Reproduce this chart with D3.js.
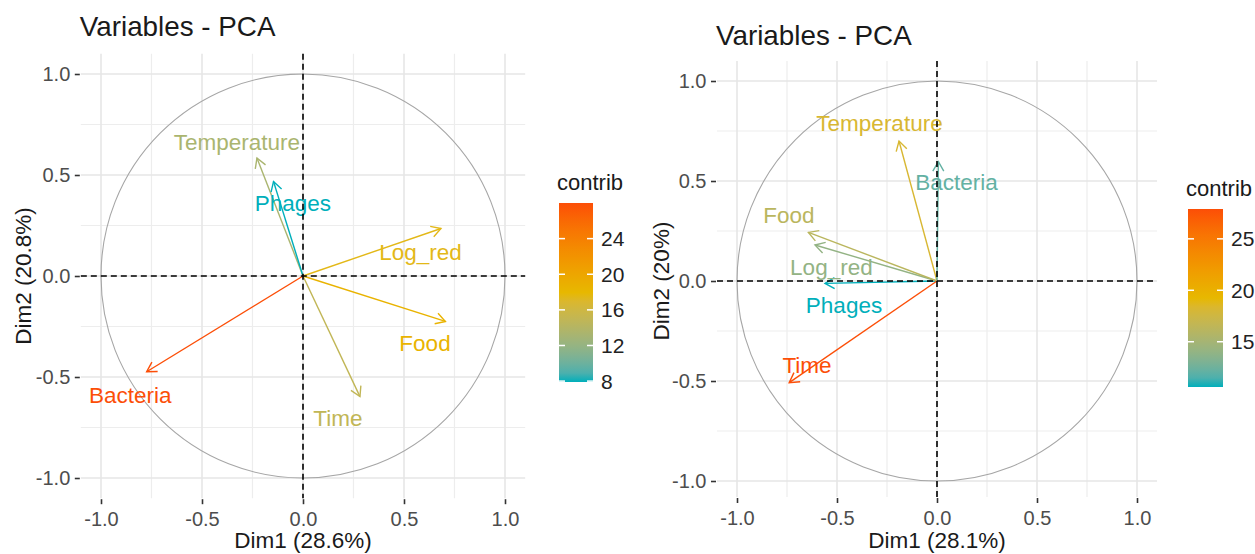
<!DOCTYPE html>
<html>
<head>
<meta charset="utf-8">
<script src="https://cdn.jsdelivr.net/npm/d3@7"></script>
<style>
body { margin: 0; background: #fff; }
svg text { font-family: "Liberation Sans", Arial, sans-serif; }
</style>
</head>
<body>
<div id="chart"></div>
<script>
// variables (same order in both panels)
var varNames = ["Temperature", "Phages", "Log_red", "Food", "Bacteria", "Time"];

// left PCA
var dim1Left = [-0.228, -0.146, 0.683, 0.705, -0.774, 0.282];
var dim2Left = [0.584, 0.468, 0.235, -0.225, -0.474, -0.597];
var contribLeft = [13.3, 7.9, 17.6, 18.5, 28.0, 14.9];
var labelXLeft = [-0.327, -0.05, 0.582, 0.604, -0.855, 0.173];
var labelYLeft = [0.665, 0.36, 0.12, -0.33, -0.589, -0.703];

// right PCA
var dim1Right = [-0.19, -0.56, -0.61, -0.643, 0.007, -0.739];
var dim2Right = [0.70, -0.012, 0.18, 0.243, 0.597, -0.508];
var contribRight = [18.2, 10.6, 14.0, 16.2, 12.1, 27.9];
var labelXRight = [-0.2875, -0.465, -0.528, -0.74, 0.098, -0.65];
var labelYRight = [0.789, -0.12, 0.072, 0.33, 0.497, -0.42];

var axisTicks = [-1, -0.5, 0, 0.5, 1];
var minorTicks = [-0.75, -0.25, 0.25, 0.75];
var legendTicksLeft = [8, 12, 16, 20, 24];
var legendTicksRight = [15, 20, 25];
var gradientCols = ["#00AFBB", "#E7B800", "#FC4E07"];

var svg = d3.select("#chart").append("svg")
    .attr("width", 1255)
    .attr("height", 554);

var fmt = function(d) { return d.toFixed(1); };

function drawPanel(p) {
  var x = d3.scaleLinear().domain(p.xDomain).range([p.left, p.left + p.width]);
  var y = d3.scaleLinear().domain(p.yDomain).range([p.top + p.height, p.top]);
  var g = svg.append("g");

  var ext = d3.extent(p.contrib);
  var color = d3.scaleLinear()
      .domain([ext[0], (ext[0] + ext[1]) / 2, ext[1]])
      .range(gradientCols)
      .interpolate(d3.interpolateLab);

  // grid
  var grid = g.append("g");
  grid.selectAll(".vminor").data(minorTicks).enter().append("line")
      .attr("x1", d => x(d)).attr("x2", d => x(d))
      .attr("y1", p.top).attr("y2", p.top + p.height)
      .attr("stroke", "#EDEDED").attr("stroke-width", 1.2);
  grid.selectAll(".hminor").data(minorTicks).enter().append("line")
      .attr("y1", d => y(d)).attr("y2", d => y(d))
      .attr("x1", p.left).attr("x2", p.left + p.width)
      .attr("stroke", "#EDEDED").attr("stroke-width", 1.2);
  grid.selectAll(".vmajor").data(axisTicks).enter().append("line")
      .attr("x1", d => x(d)).attr("x2", d => x(d))
      .attr("y1", p.top).attr("y2", p.top + p.height)
      .attr("stroke", "#E6E6E6").attr("stroke-width", 1.6);
  grid.selectAll(".hmajor").data(axisTicks).enter().append("line")
      .attr("y1", d => y(d)).attr("y2", d => y(d))
      .attr("x1", p.left).attr("x2", p.left + p.width)
      .attr("stroke", "#E6E6E6").attr("stroke-width", 1.6);

  // correlation circle
  g.append("ellipse")
      .attr("cx", x(0)).attr("cy", y(0))
      .attr("rx", x(1) - x(0)).attr("ry", y(0) - y(1))
      .attr("fill", "none").attr("stroke", "#A6A6A6").attr("stroke-width", 1.1);

  // arrows
  var rows = varNames.map(function(n, i) {
    return {name: n, d1: p.dim1[i], d2: p.dim2[i], c: p.contrib[i], lx: p.labelX[i], ly: p.labelY[i]};
  });

  var arrows = g.selectAll(".arrow").data(rows).enter().append("g");
  arrows.append("line")
      .attr("x1", x(0)).attr("y1", y(0))
      .attr("x2", d => x(d.d1)).attr("y2", d => y(d.d2))
      .attr("stroke", d => color(d.c)).attr("stroke-width", 1.4);
  arrows.append("path")
      .attr("d", function(d) {
        var tx = x(d.d1), ty = y(d.d2);
        var a = Math.atan2(ty - y(0), tx - x(0));
        var len = 11, sp = Math.PI / 6;
        return "M" + (tx - len * Math.cos(a - sp)) + "," + (ty - len * Math.sin(a - sp)) +
               "L" + tx + "," + ty +
               "L" + (tx - len * Math.cos(a + sp)) + "," + (ty - len * Math.sin(a + sp));
      })
      .attr("fill", "none")
      .attr("stroke", d => color(d.c)).attr("stroke-width", 1.4);

  g.selectAll(".vlabel").data(rows).enter().append("text")
      .attr("x", d => x(d.lx)).attr("y", d => y(d.ly))
      .attr("dy", "0.36em")
      .attr("text-anchor", "middle")
      .attr("font-size", 22.5)
      .attr("fill", d => color(d.c))
      .text(d => d.name);

  // dashed zero lines
  g.append("line")
      .attr("x1", p.left).attr("x2", p.left + p.width)
      .attr("y1", y(0)).attr("y2", y(0))
      .attr("stroke", "#000").attr("stroke-width", 1.6).attr("stroke-dasharray", "6,4");
  g.append("line")
      .attr("x1", x(0)).attr("x2", x(0))
      .attr("y1", p.top).attr("y2", p.top + p.height)
      .attr("stroke", "#000").attr("stroke-width", 1.6).attr("stroke-dasharray", "6,4");

  // axes
  var xAxis = g.append("g")
      .attr("transform", "translate(0," + (p.top + p.height + 1) + ")")
      .call(d3.axisBottom(x).tickValues(axisTicks).tickFormat(fmt).tickSize(5).tickPadding(8));
  var yAxis = g.append("g")
      .attr("transform", "translate(" + (p.left - 1) + ",0)")
      .call(d3.axisLeft(y).tickValues(axisTicks).tickFormat(fmt).tickSize(5).tickPadding(4.5));
  [xAxis, yAxis].forEach(function(a) {
    a.select(".domain").remove();
    a.selectAll(".tick line").attr("stroke", "#333").attr("stroke-width", 1.6);
    a.selectAll(".tick text").attr("fill", "#4D4D4D").attr("font-size", 20)
        .style("font-family", "'Liberation Sans', Arial, sans-serif");
  });

  // titles
  g.append("text")
      .attr("x", p.left - 1).attr("y", p.titleY)
      .attr("font-size", 27.8).attr("fill", "#1a1a1a")
      .text("Variables - PCA");
  g.append("text")
      .attr("x", x(0)).attr("y", 548)
      .attr("text-anchor", "middle")
      .attr("font-size", 22.5).attr("fill", "#1a1a1a")
      .text(p.xTitle);
  g.append("text")
      .attr("transform", "translate(" + p.yTitleX + "," + y(0) + ") rotate(-90)")
      .attr("dy", "0.36em")
      .attr("text-anchor", "middle")
      .attr("font-size", 22.5).attr("fill", "#1a1a1a")
      .text(p.yTitle);

  // legend
  var L = p.legend;
  var gradId = "grad" + p.id;
  var grad = svg.append("defs").append("linearGradient")
      .attr("id", gradId)
      .attr("x1", 0).attr("y1", 1).attr("x2", 0).attr("y2", 0);
  d3.range(0, 1.0001, 0.05).forEach(function(t) {
    grad.append("stop")
        .attr("offset", t)
        .attr("stop-color", color(ext[0] + t * (ext[1] - ext[0])));
  });
  var ly = d3.scaleLinear().domain(ext).range([L.y + L.h, L.y]);
  var leg = g.append("g");
  leg.append("text")
      .attr("x", L.x - 2).attr("y", L.y - 13)
      .attr("font-size", 22).attr("fill", "#1a1a1a")
      .text("contrib");
  leg.append("rect")
      .attr("x", L.x).attr("y", L.y).attr("width", L.w).attr("height", L.h)
      .attr("fill", "url(#" + gradId + ")");
  leg.selectAll(".tl").data(L.ticks).enter().append("line")
      .attr("x1", L.x).attr("x2", L.x + 6)
      .attr("y1", d => ly(d)).attr("y2", d => ly(d))
      .attr("stroke", "#fff").attr("stroke-width", 1.5);
  leg.selectAll(".tr").data(L.ticks).enter().append("line")
      .attr("x1", L.x + L.w - 6).attr("x2", L.x + L.w)
      .attr("y1", d => ly(d)).attr("y2", d => ly(d))
      .attr("stroke", "#fff").attr("stroke-width", 1.5);
  leg.selectAll(".tlab").data(L.ticks).enter().append("text")
      .attr("x", L.x + L.w + 8).attr("y", d => ly(d))
      .attr("dy", "0.36em")
      .attr("font-size", 21).attr("fill", "#222")
      .text(d => d);
}

drawPanel({
  id: "L",
  left: 80.8, top: 53.8, width: 444.4, height: 444.4,
  xDomain: [-1.1, 1.1], yDomain: [-1.1, 1.1],
  dim1: dim1Left, dim2: dim2Left, contrib: contribLeft,
  labelX: labelXLeft, labelY: labelYLeft,
  titleY: 36, xTitle: "Dim1 (28.6%)", yTitle: "Dim2 (20.8%)", yTitleX: 23,
  legend: {x: 559, y: 203, w: 34, h: 179, ticks: legendTicksLeft}
});

drawPanel({
  id: "R",
  left: 717, top: 61, width: 440, height: 436,
  xDomain: [-1.1, 1.1], yDomain: [-1.08, 1.1],
  dim1: dim1Right, dim2: dim2Right, contrib: contribRight,
  labelX: labelXRight, labelY: labelYRight,
  titleY: 45, xTitle: "Dim1 (28.1%)", yTitle: "Dim2 (20%)", yTitleX: 661,
  legend: {x: 1188, y: 209, w: 35, h: 178, ticks: legendTicksRight}
});
</script>
</body>
</html>
